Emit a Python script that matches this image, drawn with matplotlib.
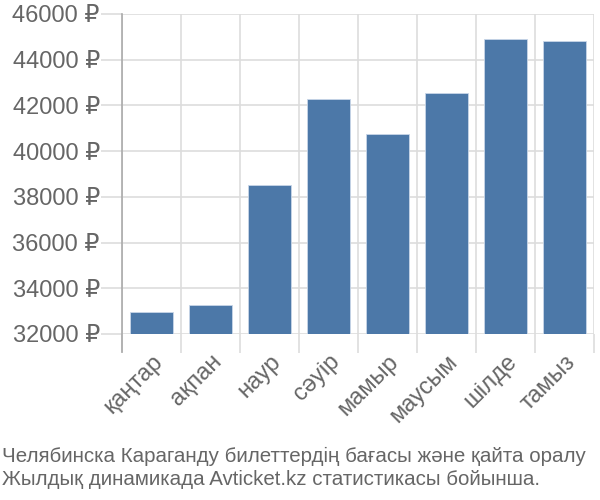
import matplotlib
matplotlib.use("Agg")
import matplotlib.pyplot as plt
import numpy as np

plt.rcParams["font.family"] = ["Liberation Sans", "DejaVu Sans"]

months = ["қаңтар", "ақпан", "наур", "сәуір", "мамыр", "маусым", "шілде", "тамыз"]
prices = [32950, 33250, 38520, 42280, 40750, 42560, 44890, 44830]
yticks = [32000, 34000, 36000, 38000, 40000, 42000, 44000, 46000]
caption = ("Челябинска Караганду билеттердің бағасы және қайта оралу\n"
           "Жылдық динамикада Avticket.kz статистикасы бойынша.")

text_color = "#666666"
grid_color = "#dddddd"

fig = plt.figure(figsize=(6, 5), dpi=100)
ax = fig.add_axes([0.2033, 0.332, 0.7867, 0.64])

x = np.arange(len(months))
ax.bar(x, prices, width=0.73, bottom=0, color="#4c78a8",
       edgecolor="#c8d6e8", linewidth=0.6, zorder=3)

ax.set_xlim(-0.5, len(months) - 0.5)
ax.set_ylim(yticks[0], yticks[-1])

# boundary ticks double as vertical grid lines
ax.set_xticks(np.arange(len(months) + 1) - 0.5)
ax.set_xticklabels([])
ax.tick_params(axis="x", which="major", length=14, width=1.2, color=grid_color)
ax.set_xticks(x, minor=True)
ax.set_xticklabels(months, minor=True, rotation=45, ha="right", va="top",
                   rotation_mode="anchor", fontsize=17, color=text_color)
ax.tick_params(axis="x", which="minor", length=0, pad=12)

ax.set_yticks(yticks)
ax.set_yticklabels([f"{v} ₽" for v in yticks], fontsize=17, color=text_color)
ax.tick_params(axis="y", length=15, width=1.2, color=grid_color, pad=1)

ax.grid(True, which="major", color=grid_color, linewidth=1.2, zorder=0)
for side in ["top", "right", "bottom"]:
    ax.spines[side].set_visible(False)
ax.spines["left"].set_color("#aaaaaa")
ax.spines["left"].set_linewidth(1.2)
ax.spines["left"].set_bounds(yticks[0] - 800, yticks[-1])
ax.spines["left"].set_clip_on(False)

fig.text(0.004, 0.022, caption, fontsize=14.8, color=text_color,
         ha="left", va="bottom", linespacing=1.3)

fig.savefig("out.png", dpi=100)
plt.close(fig)
